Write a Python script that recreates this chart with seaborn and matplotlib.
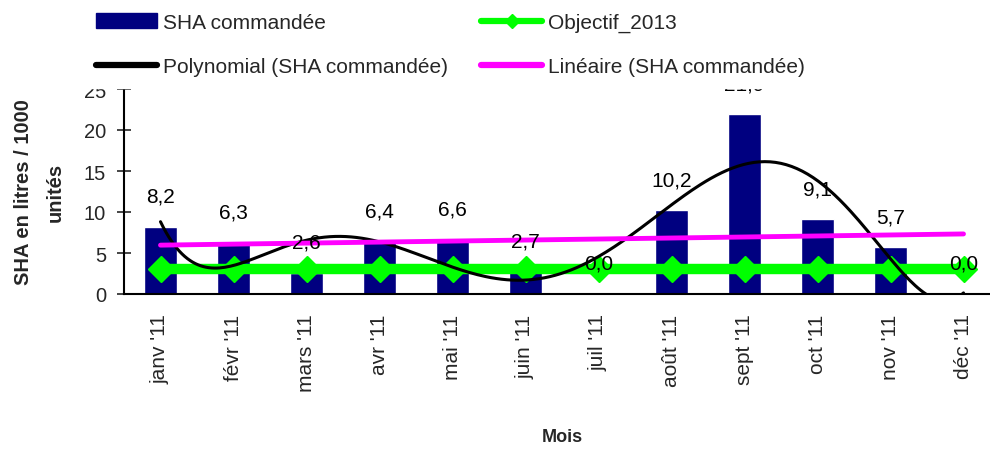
import matplotlib
matplotlib.use("Agg")
import matplotlib.pyplot as plt
import numpy as np
import pandas as pd
import seaborn as sns
from matplotlib.lines import Line2D
from matplotlib.patches import Patch

months = ["janv '11", "févr '11", "mars '11", "avr '11", "mai '11", "juin '11",
          "juil '11", "août '11", "sept '11", "oct '11", "nov '11", "déc '11"]
sha = [8.2, 6.3, 2.6, 6.4, 6.6, 2.7, 0.0, 10.2, 21.9, 9.1, 5.7, 0.0]
objectif = [3.0] * 12

sns.set_style("white")
plt.rcParams["font.family"] = ["Liberation Sans", "DejaVu Sans"]

df = pd.DataFrame({"mois": months, "sha": sha, "objectif": objectif})
x = np.arange(len(months))

# Excel-style trendlines fitted on the data
poly = np.polyfit(x, df["sha"], 6)
lin = np.polyfit(x, df["sha"], 1)
xs = np.linspace(0, len(months) - 1, 300)

fig = plt.figure(figsize=(9.9, 4.52), dpi=100)
ax = fig.add_axes([124 / 990, 157 / 452, 876 / 990, 205 / 452])

sns.barplot(data=df, x="mois", y="sha", color="#000080", width=0.44,
            saturation=1, ax=ax, zorder=2)
ax.plot(x, df["objectif"], color="#00ff00", lw=7.5, marker="D", ms=13,
        zorder=3)
ax.plot(xs, np.polyval(poly, xs), color="black", lw=2.2, zorder=4)
ax.plot(x, np.polyval(lin, x), color="#ff00ff", lw=3.5, zorder=4)

for xi, v in zip(x, sha):
    ax.annotate(f"{v:.1f}".replace(".", ","), (xi, v), xytext=(0, 22),
                textcoords="offset points", ha="center", va="center",
                fontsize=15, color="black", zorder=5)

ax.set_xlim(-0.5, len(months) - 0.5)
ax.set_ylim(0, 25)
ax.set_yticks([0, 5, 10, 15, 20, 25])
ax.set_xticks(np.arange(-0.5, len(months), 1), minor=True)
ax.tick_params(axis="x", which="major", length=0, pad=14, labelsize=15,
               labelrotation=90)
ax.tick_params(axis="x", which="minor", direction="inout", length=10,
               width=1.2)
ax.tick_params(axis="y", direction="inout", length=10, width=1.2,
               labelsize=14.5, pad=8, left=True)
for lab in ax.get_xticklabels():
    lab.set_va("top")
sns.despine(ax=ax)
for s in ["left", "bottom"]:
    ax.spines[s].set_linewidth(1.5)
    ax.spines[s].set_color("black")

ax.set_xlabel("Mois", fontsize=13, fontweight="bold")
ax.xaxis.set_label_coords(0.5, -(438 - 295) / 205)
ax.xaxis.label.set_va("center")
ax.set_ylabel("SHA en litres / 1000\nunités", fontsize=14.5,
              fontweight="bold", linespacing=1.85)
ax.yaxis.set_label_coords((65 - 124) / 876, 0.5)

handles = [
    Patch(color="#000080", label="SHA commandée"),
    Line2D([], [], color="black", lw=4.5, label="Polynomial (SHA commandée)"),
    Line2D([], [], color="#00ff00", lw=4.5, marker="D", ms=7,
           label="Objectif_2013"),
    Line2D([], [], color="#ff00ff", lw=4.5, label="Linéaire (SHA commandée)"),
]
leg = fig.legend(handles=handles, ncol=2, loc="upper left",
                 bbox_to_anchor=(85 / 990, 0.9947), frameon=True,
                 fontsize=15, handlelength=2.9, handletextpad=0.3,
                 columnspacing=1.6, labelspacing=1.2, borderpad=0.55,
                 borderaxespad=0)
leg.get_frame().set_edgecolor("white")
leg.get_frame().set_facecolor("white")
leg.get_frame().set_alpha(1)
leg.get_frame().set_boxstyle("square", pad=0)
leg.set_zorder(10)

fig.savefig("out.png", dpi=100)
